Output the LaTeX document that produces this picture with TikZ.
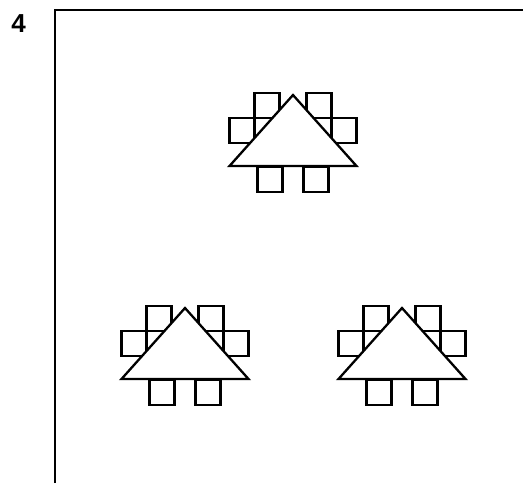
\documentclass[tikz,border=0pt]{standalone}
\usepackage{fontspec}
\setmainfont{Liberation Sans}

\tikzset{
  chair/.style={draw, line width=2.3pt, fill=white},
  tablebox/.style={draw, line width=2.3pt, fill=white},
}

\begin{document}
\begin{tikzpicture}[x=1pt,y=-1pt]
\useasboundingbox (0,0) rectangle (523,483);

% Question number
\node[font=\fontsize{26}{26}\selectfont\bfseries] (qnum) at (18.5,24) {4};

% Frame
\draw[line width=1.3pt] (55,483) -- (55,10) -- (523,10);

% Table groups
\foreach \cx/\cy in {293/166, 185/379, 402/379} {
\begin{scope}[shift={(\cx,\cy)}]
  % chairs
  \foreach \x/\y in {-38.5/-73, 13.5/-73, -63.5/-48, 38.5/-48, -35.5/1, 10.5/1}
    \draw[chair] (\x,\y) rectangle ++(25,25);
  % table
  \draw[tablebox] (-63.5,0) -- (0,-71) -- (63.5,0) -- cycle;
\end{scope}
}

\end{tikzpicture}
\end{document}
